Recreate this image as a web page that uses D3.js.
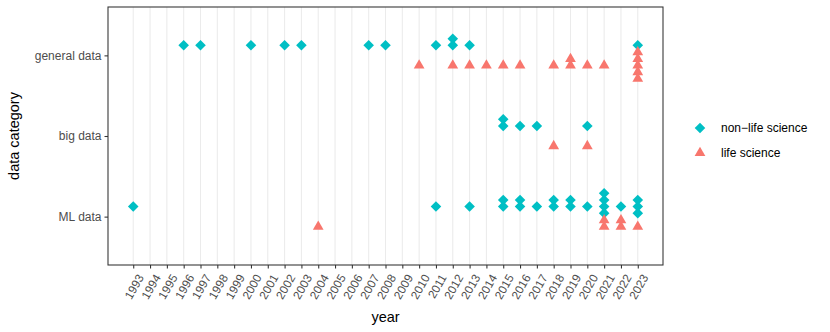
<!DOCTYPE html>
<html>
<head>
<meta charset="utf-8">
<script src="https://cdn.jsdelivr.net/npm/d3@7"></script>
<style>
  body { margin: 0; background: #fff; }
  svg { font-family: "Liberation Sans", Arial, sans-serif; }
</style>
</head>
<body>
<svg id="chart" width="830" height="332"></svg>
<script>
// categories (top to bottom) and groups
const categories = ["general data", "big data", "ML data"];
const groups = ["non\u2212life science", "life science"];
const years = d3.range(1993, 2024);

// publication years per category, one entry per paper
const generalNonLife = [1996, 1997, 2000, 2002, 2003, 2007, 2008, 2011, 2012, 2012, 2013, 2023];
const generalLife = [2010, 2012, 2013, 2014, 2015, 2016, 2018, 2019, 2019, 2020, 2021, 2023, 2023, 2023, 2023, 2023];
const bigNonLife = [2015, 2015, 2016, 2017, 2020];
const bigLife = [2018, 2020];
const mlNonLife = [1993, 2011, 2013, 2015, 2015, 2016, 2016, 2017, 2018, 2018, 2019, 2019, 2020, 2021, 2021, 2021, 2021, 2022, 2023, 2023, 2023];
const mlLife = [2004, 2021, 2021, 2022, 2022, 2023];

const colours = ["#00BFC4", "#F8766D"];

const rows = [];
function addRows(yrs, category, group) {
    yrs.forEach(year => rows.push({ year, category, group }));
}
addRows(generalNonLife, categories[0], groups[0]);
addRows(generalLife, categories[0], groups[1]);
addRows(bigNonLife, categories[1], groups[0]);
addRows(bigLife, categories[1], groups[1]);
addRows(mlNonLife, categories[2], groups[0]);
addRows(mlLife, categories[2], groups[1]);

// stack index within each year/category/group: 0, up, down, up, down...
d3.groups(rows, d => d.category, d => d.group, d => d.year).forEach(([, gs]) => {
    gs.forEach(([, ys]) => {
        ys.forEach(([, pts]) => {
            pts.forEach((p, i) => {
                const k = Math.ceil(i / 2);
                p.stack = i === 0 ? 0 : (i % 2 === 1 ? -k : k);
            });
        });
    });
});

const svg = d3.select("#chart");
const panel = { left: 108, right: 663, top: 7, bottom: 265 };

const x = d3.scaleLinear()
    .domain([1993 - 1.5, 2023 + 1.5])
    .range([panel.left, panel.right]);

const y = d3.scalePoint()
    .domain(categories)
    .range([panel.top, panel.bottom])
    .padding(0.6);

const step = y.step();
const dodge = d3.scaleOrdinal().domain(groups).range([-0.125 * step, 0.125 * step]);
const stackGap = 0.082 * step;

const colour = d3.scaleOrdinal().domain(groups).range(colours);
const diamond = d3.symbol().type(d3.symbolSquare).size(56);
const triangle = d3.symbol().type(d3.symbolTriangle).size(50);
const shapeFor = g => g === groups[0] ? diamond() : triangle();
const rotFor = g => g === groups[0] ? " rotate(45)" : "";

// panel bg
svg.append("rect")
    .attr("x", panel.left).attr("y", panel.top)
    .attr("width", panel.right - panel.left)
    .attr("height", panel.bottom - panel.top)
    .attr("fill", "#fff");

// vertical grid
svg.append("g").selectAll("line")
    .data(years)
    .join("line")
        .attr("x1", d => x(d)).attr("x2", d => x(d))
        .attr("y1", panel.top).attr("y2", panel.bottom)
        .attr("stroke", "#EBEBEB")
        .attr("stroke-width", 1.07);

// points
svg.append("g").selectAll("path")
    .data(rows)
    .join("path")
        .attr("d", d => shapeFor(d.group))
        .attr("transform", d => `translate(${x(d.year)},${y(d.category) + dodge(d.group) + d.stack * stackGap})${rotFor(d.group)}`)
        .attr("fill", d => colour(d.group));

// border
svg.append("rect")
    .attr("x", panel.left).attr("y", panel.top)
    .attr("width", panel.right - panel.left)
    .attr("height", panel.bottom - panel.top)
    .attr("fill", "none")
    .attr("stroke", "#333333")
    .attr("stroke-width", 1.07);

// x axis
const xAxis = svg.append("g")
    .attr("transform", `translate(0,${panel.bottom})`)
    .call(d3.axisBottom(x).tickValues(years).tickFormat(d3.format("d")).tickSizeOuter(0).tickSize(3.5));
xAxis.select(".domain").remove();
xAxis.selectAll(".tick line").attr("stroke", "#333333").attr("stroke-width", 1.07);
xAxis.selectAll(".tick text")
    .attr("fill", "#4D4D4D")
    .attr("font-size", 11.8)
    .attr("dy", null)
    .attr("y", 0)
    .attr("text-anchor", "end")
    .attr("transform", "translate(3,8) rotate(-60)")
    .attr("dominant-baseline", "hanging");

// y axis
const yAxis = svg.append("g")
    .attr("transform", `translate(${panel.left},0)`)
    .call(d3.axisLeft(y).tickSizeOuter(0).tickSize(3.5));
yAxis.select(".domain").remove();
yAxis.selectAll(".tick line").attr("stroke", "#333333").attr("stroke-width", 1.07);
yAxis.selectAll(".tick text")
    .attr("fill", "#4D4D4D")
    .attr("font-size", 12)
    .attr("x", -6.5);

// titles
svg.append("text")
    .attr("x", (panel.left + panel.right) / 2)
    .attr("y", 322)
    .attr("text-anchor", "middle")
    .attr("font-size", 14.5)
    .attr("fill", "#000")
    .text("year");

svg.append("text")
    .attr("transform", `translate(19,${(panel.top + panel.bottom) / 2}) rotate(-90)`)
    .attr("text-anchor", "middle")
    .attr("font-size", 14.5)
    .attr("fill", "#000")
    .text("data category");

// legend
const legend = svg.append("g").attr("transform", "translate(700,128)");
const item = legend.selectAll("g")
    .data(groups)
    .join("g")
        .attr("transform", (d, i) => `translate(0,${i * 25})`);
item.append("path")
    .attr("d", d => shapeFor(d))
    .attr("transform", d => `translate(0,0)${rotFor(d)}`)
    .attr("fill", d => colour(d));
item.append("text")
    .attr("x", 21)
    .attr("dy", "0.35em")
    .attr("font-size", 12)
    .attr("fill", "#000")
    .text(d => d);
</script>
</body>
</html>
